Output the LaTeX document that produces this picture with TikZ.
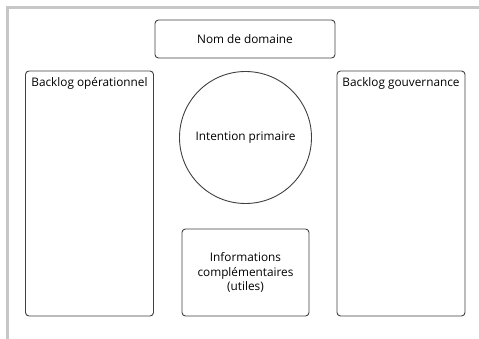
\documentclass[tikz,border=0pt]{standalone}
\usepackage{fontspec}
\setmainfont{Open Sans}
\usetikzlibrary{positioning}

\tikzset{
  boite/.style={draw=black!75,line width=0.9pt,rounded corners=3.5pt,fill=white,inner sep=2pt},
  rond/.style={draw=black!75,line width=0.9pt,circle,fill=white,minimum size=132pt},
  cadre/.style={draw=black!22,line width=3pt},
  titre/.style={anchor=north,inner sep=0pt},
}

\begin{document}
\begin{tikzpicture}[x=1pt,y=-1pt,font=\fontsize{11.8}{14.8}\selectfont]

    \def\hautbl{71}%Haut des backlogs
    \def\basbl{316}%Bas des backlogs
    \def\largbl{128}%Largeur des backlogs

    \useasboundingbox (0,0) rectangle (479,339);

    %Cadre
    \draw[cadre] (7,339)--(7,8)--(479,8);

    %Domaine
    \node[boite,minimum width=180pt,minimum height=38pt] (domaine) at (245,39) {Nom de domaine};

    %Backlogs
    \node[boite,minimum width=\largbl pt,minimum height=245pt] (operation) at (89.5,{(\hautbl+\basbl)/2}) {};
    \node[titre] (titreop) at ([yshift=-7pt]operation.north) {Backlog opérationnel};
    \node[boite,minimum width=\largbl pt,minimum height=245pt] (gouvernance) at (401,{(\hautbl+\basbl)/2}) {};
    \node[titre] (titregouv) at ([yshift=-7pt]gouvernance.north) {Backlog gouvernance};

    %Intention
    \node[rond] (intention) at (245.5,137.5) {Intention primaire};

    %Informations
    \node[boite,minimum width=127pt,minimum height=87pt,align=center] (infos) at (245.5,272.5) {Informations\\complémentaires\\(utiles)};

\end{tikzpicture}
\end{document}
